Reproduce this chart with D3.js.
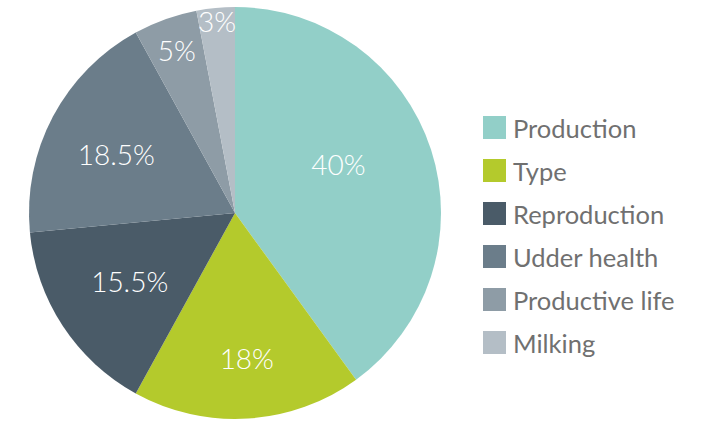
<!DOCTYPE html>
<html><head><meta charset="utf-8">
<script src="https://cdn.jsdelivr.net/npm/d3@7"></script>
<style>html,body{margin:0;padding:0;background:#fff;}svg{display:block;}</style>
</head><body>
<svg id="chart" width="706" height="421"></svg>
<script>
const categories = ["Production", "Type", "Reproduction", "Udder health", "Productive life", "Milking"];
const values = [40, 18, 15.5, 18.5, 5, 3];
const valueLabels = ["40%", "18%", "15.5%", "18.5%", "5%", "3%"];
const colors = ["#92cfc8", "#b4ca2c", "#4a5b68", "#6b7d8a", "#8e9ca6", "#b4bec6"];

// layout (not data)
const cx = 235, cy = 213, R = 206;
const labelRadius = [114, 147, 126, 132, 172, 192];
const labelAngleNudge = [-7, -1, 0, -2, 0, 0];

const svg = d3.select("#chart");
const data = categories.map((c, i) => ({cat: c, value: values[i], label: valueLabels[i], color: colors[i], i}));
const pie = d3.pie().sort(null).value(d => d.value);
const arcs = pie(data);
const arc = d3.arc().innerRadius(0).outerRadius(R);

const g = svg.append("g").attr("transform", `translate(${cx},${cy})`);
g.selectAll("path").data(arcs).enter().append("path")
  .attr("d", arc).attr("fill", d => d.data.color);

g.selectAll("text").data(arcs).enter().append("text")
  .attr("transform", d => {
    const a = (d.startAngle + d.endAngle) / 2 + labelAngleNudge[d.data.i] * Math.PI / 180;
    const r = labelRadius[d.data.i];
    return `translate(${r * Math.sin(a)},${-r * Math.cos(a)})`;
  })
  .attr("text-anchor", "middle")
  .attr("dy", "0.35em")
  .attr("fill", "#ffffff")
  .style("font-family", "Lato, 'Open Sans', sans-serif")
  .style("font-weight", 300)
  .style("font-size", "28px")
  .text(d => d.data.label);

const legendY = d3.scalePoint().domain(categories).range([127.5, 342.5]);
const lg = svg.append("g");
const items = lg.selectAll("g").data(data).enter().append("g")
  .attr("transform", d => `translate(483,${legendY(d.cat)})`);
items.append("rect").attr("x", 0).attr("y", -11.5).attr("width", 23).attr("height", 23)
  .attr("fill", d => d.color);
items.append("text").attr("x", 30).attr("y", 10.5)
  .attr("fill", "#707070")
  .style("font-family", "Lato, 'Open Sans', sans-serif")
  .style("font-weight", 400)
  .style("font-size", "25.5px")
  .text(d => d.cat);
</script>
</body></html>
